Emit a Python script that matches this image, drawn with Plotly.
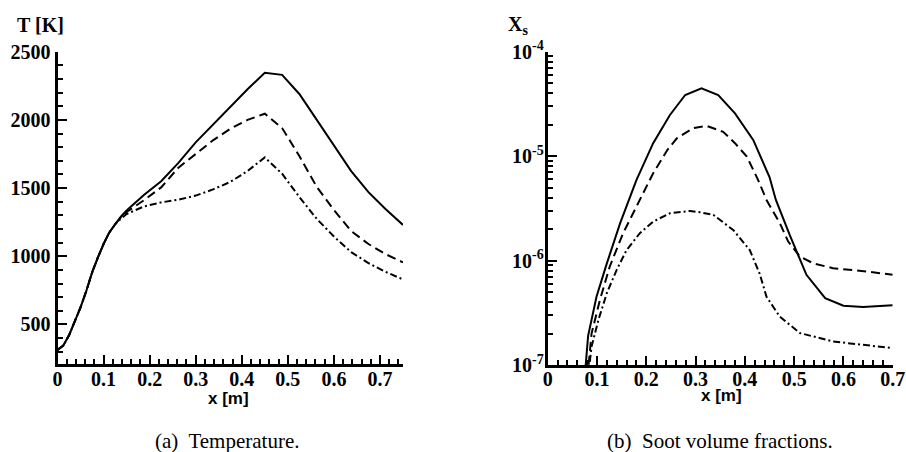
import plotly.graph_objects as go

# ---------------- data: (a) temperature ----------------
T_x = [0, 0.0125, 0.025, 0.0375, 0.05, 0.0625, 0.075, 0.0875, 0.1, 0.1125, 0.125,
       0.1375, 0.15, 0.1875, 0.225, 0.2625, 0.3, 0.3375, 0.375, 0.4125, 0.45,
       0.4875, 0.525, 0.5625, 0.6, 0.6375, 0.675, 0.7125, 0.75]
T_solid = [313, 345, 420, 520, 625, 745, 880, 990, 1090, 1175, 1235,
           1290, 1335, 1450, 1550, 1685, 1835, 1965, 2095, 2225, 2345,
           2330, 2190, 2000, 1810, 1625, 1470, 1345, 1230]
T_dash = [313, 345, 420, 520, 625, 745, 880, 990, 1090, 1175, 1235,
          1285, 1325, 1410, 1505, 1650, 1750, 1850, 1935, 2000, 2045,
          1940, 1735, 1510, 1340, 1185, 1090, 1015, 955]
T_dashdot = [313, 345, 420, 520, 625, 745, 880, 990, 1090, 1175, 1235,
             1275, 1310, 1365, 1395, 1415, 1445, 1490, 1545, 1625, 1725,
             1605, 1435, 1275, 1145, 1030, 950, 885, 830]

# ---------------- data: (b) soot volume fraction ----------------
S_solid_x = [0.068, 0.082, 0.099, 0.12, 0.147, 0.18, 0.214, 0.248, 0.279, 0.312,
             0.346, 0.38, 0.417, 0.45, 0.463, 0.491, 0.525, 0.563, 0.6, 0.64, 0.7]
S_solid = [3e-8, 1.9e-7, 4.5e-7, 9.4e-7, 2.28e-6, 5.9e-6, 1.33e-5, 2.48e-5, 3.85e-5, 4.47e-5,
           3.85e-5, 2.57e-5, 1.43e-5, 6.3e-6, 3.81e-6, 1.76e-6, 7.3e-7, 4.37e-7, 3.69e-7, 3.6e-7, 3.74e-7]
S_dash_x = [0.075, 0.089, 0.106, 0.126, 0.153, 0.187, 0.214, 0.243, 0.262, 0.295, 0.322,
            0.356, 0.38, 0.404, 0.427, 0.444, 0.471, 0.488, 0.512, 0.539, 0.579, 0.647, 0.7]
S_dash = [4e-8, 2.0e-7, 4.2e-7, 8.8e-7, 1.83e-6, 3.8e-6, 6.86e-6, 1.15e-5, 1.48e-5, 1.85e-5, 1.95e-5,
          1.71e-5, 1.33e-5, 9.9e-6, 5.9e-6, 3.8e-6, 2.28e-6, 1.52e-6, 1.09e-6, 9.4e-7, 8.45e-7, 7.85e-7, 7.3e-7]
S_dashdot_x = [0.075, 0.089, 0.103, 0.12, 0.14, 0.16, 0.187, 0.214, 0.248, 0.289, 0.309,
               0.336, 0.377, 0.41, 0.43, 0.444, 0.471, 0.512, 0.579, 0.7]
S_dashdot = [4e-8, 1.5e-7, 2.71e-7, 4.88e-7, 8.15e-7, 1.26e-6, 1.83e-6, 2.36e-6, 2.84e-6, 2.99e-6, 2.9e-6,
             2.74e-6, 1.95e-6, 1.26e-6, 7.5e-7, 4.5e-7, 2.9e-7, 2.02e-7, 1.68e-7, 1.45e-7]

x_ticks_a = [0, 0.1, 0.2, 0.3, 0.4, 0.5, 0.6, 0.7]
x_ticks_b = [0, 0.1, 0.2, 0.3, 0.4, 0.5, 0.6, 0.7]
x_ticktext = ["0", "0.1", "0.2", "0.3", "0.4", "0.5", "0.6", "0.7"]
T_ticks = [500, 1000, 1500, 2000, 2500]
T_ticktext = ["500", "1000", "1500", "2000", "2500"]
S_ticks = [1e-7, 1e-6, 1e-5, 1e-4]
S_ticktext = ["10<sup>-7</sup>", "10<sup>-6</sup>", "10<sup>-5</sup>", "10<sup>-4</sup>"]

W, H = 906, 452
DASH = "9px,5px"
DASHDOT = "7px,3px,2px,3px"


def bold(lst):
    return ["<b>" + t + "</b>" for t in lst]


fig = go.Figure()
for y, d in [(T_solid, "solid"), (T_dash, DASH), (T_dashdot, DASHDOT)]:
    fig.add_trace(go.Scatter(x=T_x, y=y, mode="lines", xaxis="x", yaxis="y",
                             line=dict(color="black", width=2, dash=d), showlegend=False))
for x, y, d in [(S_solid_x, S_solid, "solid"), (S_dash_x, S_dash, DASH),
                (S_dashdot_x, S_dashdot, DASHDOT)]:
    fig.add_trace(go.Scatter(x=x, y=y, mode="lines", xaxis="x2", yaxis="y2",
                             line=dict(color="black", width=2, dash=d), showlegend=False))

tickfont = dict(family="Liberation Serif", size=20, color="black")
common = dict(showline=True, linewidth=3, linecolor="black", ticks="inside", ticklen=9,
              tickwidth=2, tickcolor="black", showgrid=False, zeroline=False,
              tickfont=tickfont, automargin=False)
minor_lin = dict(ticks="inside", ticklen=5, tickwidth=1.5, tickcolor="black", tickmode="linear", tick0=0)

fig.update_layout(
    width=W, height=H, autosize=False,
    margin=dict(l=0, r=0, t=0, b=0, pad=0, autoexpand=False),
    paper_bgcolor="white", plot_bgcolor="white", showlegend=False,
    xaxis=dict(domain=[57.5 / W, 403 / W], range=[0, 0.75], anchor="y",
               tickmode="array", tickvals=x_ticks_a, ticktext=bold(x_ticktext),
               ticklabelstandoff=-5,
               minor=dict(dtick=0.02, **minor_lin), **common),
    yaxis=dict(domain=[(H - 364) / H, (H - 51.7) / H], range=[210, 2500], anchor="x",
               tickmode="array", tickvals=T_ticks, ticktext=bold(T_ticktext),
               minor=dict(dtick=100, **minor_lin), **common),
    xaxis2=dict(domain=[547.7 / W, 892.7 / W], range=[0, 0.7], anchor="y2",
                tickmode="array", tickvals=x_ticks_b, ticktext=bold(x_ticktext),
                ticklabelstandoff=-6,
                minor=dict(dtick=0.02, **minor_lin), **common),
    yaxis2=dict(domain=[(H - 365) / H, (H - 51.7) / H], type="log", range=[-7, -4], anchor="x2",
                tickmode="array", tickvals=S_ticks, ticktext=bold(S_ticktext),
                ticklabelstandoff=-3,
                minor=dict(ticks="inside", ticklen=5, tickwidth=1.5, tickcolor="black",
                           tickmode="linear", dtick="D1"), **common),
)

serif_b = dict(family="Liberation Serif", size=20, color="black")
sans_b = dict(family="Liberation Sans", size=17, color="black")
serif = dict(family="Liberation Serif", size=21, color="black")

ann = [
    dict(text="<b>T [K]</b>", x=40 / W, y=1 - 25.5 / H, font=serif_b, xanchor="center"),
    dict(text="<b>X<sub>s</sub></b>", x=506 / W, y=1 - 25 / H, font=serif_b, xanchor="left"),
    dict(text="<b>x [m]</b>", x=228 / W, y=1 - 398 / H, font=sans_b, xanchor="center"),
    dict(text="<b>x [m]</b>", x=721 / W, y=1 - 395 / H, font=sans_b, xanchor="center"),
    dict(text="(a)  Temperature.", x=227 / W, y=1 - 441 / H, font=serif, xanchor="center"),
    dict(text="(b)  Soot volume fractions.", x=720 / W, y=1 - 441 / H, font=serif, xanchor="center"),
]
for a in ann:
    fig.add_annotation(xref="paper", yref="paper", showarrow=False, yanchor="middle", **a)

fig.write_html("out.html")
